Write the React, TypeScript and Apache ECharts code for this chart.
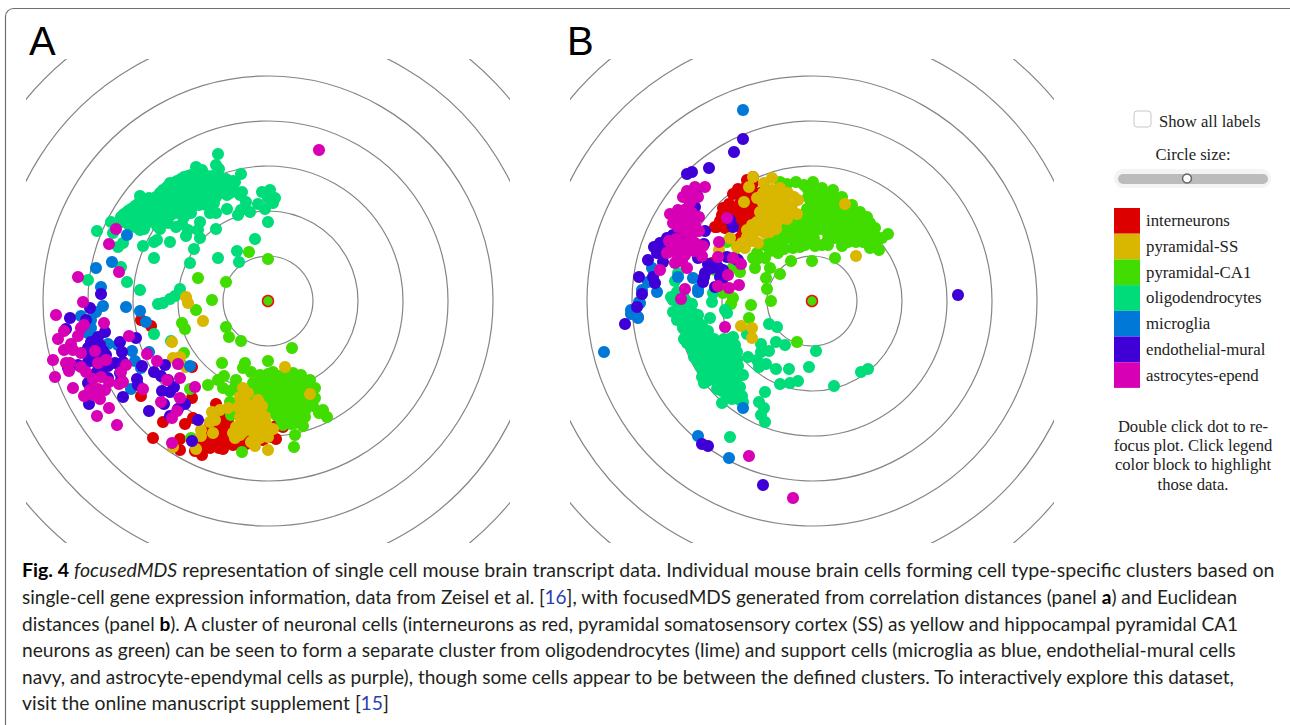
import React, { useEffect, useRef } from "react";
import * as echarts from "echarts";

const cellTypes = ["interneurons", "pyramidal-SS", "pyramidal-CA1", "oligodendrocytes", "microglia", "endothelial-mural", "astrocytes-epend"];
const ringRadii = [45, 90, 135, 180, 225, 270, 315];
const focusPoint = [0, 0];

const aInterneurons = [[-127,-19],[-117,-25],[-127,-95],[-76,-97],[-52,-103],[-105,-121],[-83,-123],[-75,-117],[-115,-137],[-88,-138],[-88,-149],[-73,-150],[-66,-154],[-76,-66],[-58,-147],[-49,-147],[-42,-142],[-35,-144],[-25,-139],[-17,-137],[-52,-132],[-62,-139],[-52,-142],[-45,-136],[-38,-132],[-30,-132],[-22,-132],[-5,-139],[2,-136],[8,-138],[15,-126],[-52,-119],[-45,-116],[-42,-126],[-40,-119],[-68,-146],[-58,-122],[-48,-126],[-56,-126],[-62,-132],[-45,-148],[-38,-140],[-30,-142],[-22,-143],[-12,-135],[-55,-140],[-48,-140],[8,-125],[2,-128]];
const aSS = [[-82,4],[-80,-2],[-65,-20],[-96,-41],[-95,-57],[-88,-56],[-82,-66],[-87,-99],[-40,-107],[-48,-109],[-56,-111],[-53,-119],[-58,-121],[-67,-129],[-67,-135],[-55,-132],[-72,-148],[-95,-146],[17,-66],[42,-93],[0,-149],[-25,-87],[-28,-96],[-30,-106],[-22,-102],[-10,-99],[-18,-112],[-10,-109],[-3,-116],[-28,-116],[-20,-122],[-12,-122],[-32,-126],[-33,-137],[-25,-131],[-35,-132],[-17,-141],[-13,-145],[-8,-137],[-2,-131],[5,-128],[0,-136],[-8,-127],[-7,-117],[-15,-131],[-20,-92],[-24,-96],[-15,-105],[-24,-112],[-15,-116],[-24,-120],[-6,-105],[-18,-128],[-10,-132],[-28,-134],[-2,-122]];
const aCA1 = [[-70,23],[-42,19],[-56,1],[-72,-9],[-19,49],[0,42],[-86,-22],[-83,-28],[-42,-26],[-39,-36],[-27,-40],[24,-47],[-84,-52],[-46,-62],[-23,-62],[0,-60],[-25,-67],[-17,-71],[-8,-74],[-60,-84],[-50,-79],[-44,-75],[-32,-79],[-45,-87],[-38,-90],[-33,-86],[-38,-101],[-37,-114],[-78,-88],[-77,-137],[-26,-151],[26,-146],[27,-134],[35,-125],[59,-116],[55,-109],[51,-112],[5,-71],[15,-74],[25,-72],[33,-74],[42,-79],[47,-87],[-5,-79],[5,-79],[15,-82],[25,-81],[35,-82],[-15,-82],[-20,-89],[-12,-89],[-2,-87],[8,-89],[18,-91],[28,-91],[38,-92],[-8,-97],[2,-97],[12,-97],[22,-99],[32,-99],[42,-101],[47,-97],[2,-106],[12,-106],[22,-107],[32,-107],[45,-105],[8,-114],[18,-114],[28,-114],[37,-116],[15,-124],[23,-123],[13,-119],[0,-73],[10,-75],[20,-76],[30,-78],[38,-84],[-10,-84],[0,-84],[10,-85],[20,-86],[30,-86],[40,-87],[-16,-93],[-5,-92],[5,-92],[15,-93],[25,-94],[35,-95],[44,-92],[-3,-102],[7,-102],[17,-102],[27,-103],[37,-104],[7,-110],[17,-110],[27,-111],[37,-110],[12,-114],[22,-118],[32,-118],[18,-121],[27,-122]];
const aOligo = [[-50,147],[-52,136],[-49,132],[-72,134],[-66,131],[-27,127],[-33,119],[-35,113],[-26,109],[-22,99],[-28,106],[-6,109],[2,111],[0,103],[7,103],[5,98],[-10,97],[-3,92],[-18,89],[-27,91],[-30,86],[-41,92],[-52,88],[-58,88],[-54,98],[0,79],[-52,72],[-13,62],[-31,50],[-29,39],[-50,43],[-74,52],[-78,38],[-68,63],[-70,71],[-68,79],[-82,65],[-80,71],[-86,77],[-92,74],[-98,59],[-111,61],[-114,59],[-125,55],[-114,43],[-108,72],[-100,78],[-128,105],[-128,71],[-171,70],[-157,79],[-155,68],[-145,58],[-150,54],[-147,34],[-180,21],[-141,19],[-128,11],[-88,12],[-93,5],[-98,2],[-105,-2],[-110,-3],[-114,-33],[-97,-40],[-87,-63],
[-147,84],[-146,79],[-140,90],[-141,84],[-139,76],[-133,95],[-134,88],[-132,81],[-133,74],[-126,100],[-127,92],[-125,85],[-126,78],[-124,72],[-119,103],[-120,96],[-118,88],[-119,80],[-112,104],[-113,97],[-111,90],[-112,82],[-111,75],[-105,111],[-106,103],[-104,95],[-105,87],[-104,80],[-98,118],[-99,110],[-97,102],[-98,94],[-97,86],[-91,120],[-92,112],[-90,104],[-91,96],[-90,88],[-84,124],[-85,116],[-83,108],[-84,100],[-83,92],[-84,84],[-77,126],[-78,118],[-76,110],[-77,102],[-76,94],[-77,88],[-70,128],[-71,120],[-69,112],[-70,104],[-69,96],[-63,126],[-64,118],[-62,110],[-63,102],[-62,96],[-56,125],[-57,117],[-55,109],[-56,101],[-49,124],[-50,116],[-48,108],[-42,122],[-43,114],[-41,106],[-35,120],[-36,112],
[-144,87],[-137,92],[-130,97],[-130,85],[-122,101],[-122,90],[-122,77],[-115,100],[-115,92],[-115,84],[-108,108],[-108,99],[-108,91],[-101,114],[-101,106],[-101,98],[-101,90],[-94,118],[-94,108],[-94,100],[-94,92],[-87,122],[-87,112],[-87,104],[-87,96],[-80,125],[-80,114],[-80,106],[-80,97],[-73,122],[-73,114],[-73,106],[-73,98],[-66,124],[-66,114],[-66,106],[-66,98],[-59,122],[-59,113],[-59,105],[-52,121],[-52,112],[-52,104],[-45,118],[-45,110],[-38,116],[-38,108]];
const aMicroglia = [[-165,-5],[-142,-6],[-128,-10],[-122,-21],[-172,-11],[-177,-19],[-187,-15],[-180,-32],[-160,-43],[-150,-44],[-136,-50],[-133,-60],[-127,-67],[-119,-51],[-137,-88],[-78,-65],[-177,-27],[-141,66],[-156,39],[-172,33],[-167,14]];
const aEndothelial = [[-167,7],[-178,-7],[-198,-17],[-182,-19],[-202,-28],[-163,-31],[-170,-36],[-177,-41],[-180,-47],[-168,-44],[-175,-54],[-162,-54],[-180,-61],[-167,-71],[-190,-64],[-200,-67],[-148,-41],[-132,-37],[-146,-51],[-153,-62],[-145,-61],[-148,-72],[-180,-82],[-160,-77],[-147,-79],[-145,-96],[-179,-103],[-131,-78],[-130,-84],[-126,-65],[-114,-71],[-103,-64],[-107,-75],[-100,-79],[-106,-90],[-98,-91],[-94,-86],[-104,-103],[-119,-110],[-83,-103],[-90,-108],[-98,-115],[-70,-119],[-76,-140],[-172,-44],[-165,-50],[-172,-58],[-178,-52],[-170,-64],[-160,-65],[-172,-72]];
const aAstrocytes = [[51,151],[-152,72],[-159,57],[-149,29],[-190,24],[-185,-1],[-212,-14],[-204,-30],[-210,-38],[-190,-35],[-187,-27],[-184,-24],[-164,-22],[-139,-35],[-215,-59],[-213,-76],[-204,-49],[-197,-43],[-195,-49],[-187,-52],[-173,-50],[-162,-59],[-170,-62],[-198,-62],[-202,-62],[-199,-70],[-187,-66],[-182,-71],[-175,-78],[-167,-76],[-159,-81],[-195,-87],[-178,-89],[-170,-88],[-184,-95],[-175,-94],[-168,-98],[-163,-89],[-149,-83],[-142,-64],[-147,-71],[-145,-81],[-125,-88],[-159,-107],[-171,-115],[-151,-124],[-121,-53],[-111,-60],[-90,-63],[-88,-77],[-101,-79],[-73,-86],[-107,-101],[-91,-110],[-96,-117],[-96,-142],[-88,-97]];

const bInterneurons = [[-59,124],[-65,121],[-67,113],[-79,107],[-64,104],[-72,98],[-89,93],[-90,86],[-79,89],[-69,89],[-84,84],[-95,74],[-75,81],[-65,78],[-72,63],[-59,118],[-52,108],[-49,93],[-59,94],[-97,74],[-64,69],[-57,81],[-87,73],[-100,38],[-75,93],[-83,97],[-64,96],[-68,84],[-58,100],[-60,110],[-70,105],[-74,112],[-60,86],[-80,76],[-70,72],[-66,60],[-62,118],[-92,80],[-85,90]];
const bSS = [[-59,124],[-40,123],[-48,118],[-63,114],[-68,99],[-55,103],[-49,108],[-40,111],[-32,113],[-24,108],[-14,101],[-49,98],[-39,103],[-29,103],[-20,96],[-15,87],[-52,89],[-42,94],[-32,93],[-24,86],[-25,82],[-47,84],[-37,86],[-55,79],[-45,78],[-35,79],[-60,76],[-65,71],[-52,73],[-42,69],[-60,66],[-54,58],[-67,53],[33,97],[44,45],[-75,54],[-82,63],[-93,51],[-90,19],[-71,-25],[-60,-27],[-60,-37],[-44,104],[-34,108],[-26,98],[-18,104],[-36,96],[-44,88],[-30,88],[-50,80],[-40,74],[-55,70],[-47,68],[-60,60],[-30,97],[-22,92],[-36,72],[-65,64],[-70,58]];
const bCA1 = [[-32,119],[-16,119],[1,119],[-5,113],[10,113],[21,111],[-4,104],[8,104],[21,103],[30,104],[40,96],[48,89],[55,84],[63,73],[76,67],[65,61],[67,51],[58,53],[-2,93],[11,93],[25,91],[38,88],[45,81],[55,73],[-9,86],[5,86],[18,84],[31,83],[-15,79],[-2,79],[11,78],[25,76],[38,76],[50,69],[58,63],[-25,73],[-12,71],[1,71],[15,69],[28,68],[41,66],[51,59],[-32,68],[-19,63],[-5,63],[10,56],[23,63],[36,59],[-42,63],[-30,59],[-19,53],[-47,56],[-37,53],[-34,48],[-55,48],[-47,43],[-59,43],[-7,56],[-21,40],[0,40],[23,43],[-57,33],[-42,33],[-32,27],[-46,23],[-45,12],[-41,0],[-61,-4],[-79,3],[-81,-3],[-63,-17],[-85,59],[-77,44],[-72,29],[-79,34],[-89,8],[-97,31],[-15,-41],
[-25,117],[-8,116],[3,110],[15,108],[-1,99],[6,98],[15,100],[26,97],[33,96],[18,93],[32,90],[-5,92],[5,93],[44,86],[50,80],[58,78],[63,65],[70,63],[-12,84],[-3,86],[12,86],[24,84],[38,82],[-20,77],[-8,78],[5,79],[18,78],[32,78],[45,74],[53,67],[-30,71],[-18,71],[-5,71],[8,72],[21,70],[35,70],[47,63],[63,57],[-38,65],[-25,63],[-12,63],[2,63],[16,62],[30,62],[44,59],[-28,52],[-12,54],[3,55],[-42,50],[-36,58],[16,56],[30,55],[-55,42]];
const bOligo = [[-43,-23],[-35,-26],[-36,-41],[-27,-44],[4,-50],[-51,-43],[-43,-50],[-51,-51],[-64,-56],[-55,-59],[-46,-63],[-53,-66],[-36,-68],[-23,-68],[-3,-66],[56,-68],[49,-71],[22,-85],[-14,-80],[-22,-82],[-32,-83],[-47,-91],[-53,-101],[-48,-107],[-51,-114],[-47,-121],[-82,-136],[-90,-102],[-69,-101],[-102,-17],[-65,-33],[-100,-1],[-87,-9],[-85,-12],[-137,20],[-134,28],[-141,4],[-135,9],[-99,8],
[-139,1],[-125,-1],[-132,4],[-139,-11],[-129,-11],[-119,-12],[-135,-19],[-125,-21],[-115,-19],[-129,-27],[-119,-27],[-109,-29],[-124,-36],[-114,-36],[-104,-37],[-79,-36],[-84,-39],[-125,-42],[-117,-44],[-107,-44],[-97,-44],[-87,-44],[-77,-44],[-115,-51],[-105,-51],[-95,-52],[-85,-52],[-75,-51],[-114,-61],[-104,-61],[-94,-61],[-84,-61],[-75,-59],[-109,-69],[-99,-69],[-89,-69],[-79,-69],[-110,-76],[-100,-77],[-90,-76],[-80,-76],[-69,-74],[-108,-82],[-95,-82],[-79,-86],[-72,-86],[-90,-90],[-82,-87],[-74,-92],
[-133,-3],[-128,3],[-120,-3],[-134,-14],[-124,-16],[-114,-14],[-130,-22],[-120,-22],[-110,-24],[-124,-30],[-114,-30],[-104,-30],[-128,-38],[-118,-40],[-108,-38],[-98,-38],[-88,-38],[-120,-48],[-110,-47],[-100,-47],[-90,-47],[-80,-47],[-118,-56],[-108,-56],[-98,-56],[-88,-56],[-78,-56],[-112,-65],[-102,-65],[-92,-65],[-82,-65],[-74,-65],[-104,-73],[-94,-72],[-84,-72],[-74,-72],[-105,-80],[-88,-82],[-76,-80],[-95,-88],[-86,-92],[-78,-93],[-70,-95],[-80,-98],[-72,-99]];
const bMicroglia = [[-69,191],[-160,33],[-164,19],[-155,9],[-170,11],[-173,-1],[-181,-9],[-174,-16],[-134,24],[-119,23],[-114,12],[-75,41],[-208,-51],[-174,-17],[-181,-13],[-172,-2],[-114,9],[-69,-107],[-114,-135],[-83,-157]];
const bEndothelial = [[-69,162],[-78,149],[-103,133],[-120,129],[-125,127],[-107,70],[-108,57],[-145,63],[-139,66],[-155,48],[-164,41],[-149,39],[-173,24],[-159,24],[-157,18],[-170,7],[-175,-6],[-122,58],[-114,43],[-104,37],[-107,28],[-109,19],[-94,34],[-89,31],[-97,14],[-89,23],[-79,74],[-82,81],[-85,44],[-74,41],[-117,94],[-115,106],[-134,68],[-152,58],[-187,-23],[-110,-143],[-104,-145],[-49,-184],[146,6],[-128,62],[-158,54],[-146,52],[-108,24],[-100,33],[-92,24]];
const bAstrocytes = [[-107,114],[-117,114],[-122,106],[-129,104],[-122,98],[-134,91],[-142,87],[-129,88],[-120,88],[-139,78],[-129,78],[-117,76],[-127,69],[-119,68],[-117,58],[-109,55],[-132,58],[-140,54],[-145,48],[-135,46],[-127,46],[-137,38],[-125,33],[-110,45],[-152,31],[-122,64],[-85,83],[-93,59],[-94,44],[-79,43],[-71,37],[-84,26],[-94,15],[-83,13],[-73,16],[-127,12],[-131,2],[-87,-26],[-63,-155],[-19,-197],[-125,110],[-114,104],[-126,92],[-136,84],[-125,83],[-134,74],[-123,72],[-113,84],[-122,82],[-113,70],[-124,58],[-136,62],[-128,52],[-118,50],[-143,60],[-138,52],[-130,40],[-120,54]];

const panelA = [aInterneurons, aSS, aCA1, aOligo, aMicroglia, aEndothelial, aAstrocytes];
const panelB = [bInterneurons, bSS, bCA1, bOligo, bMicroglia, bEndothelial, bAstrocytes];

const captionLines = [
  "{b|Fig. 4} {i|focusedMDS} representation of single cell mouse brain transcript data. Individual mouse brain cells forming cell type-specific clusters based on",
  "single-cell gene expression information, data from Zeisel et al. [{l|16}], with focusedMDS generated from correlation distances (panel {b|a}) and Euclidean",
  "distances (panel {b|b}). A cluster of neuronal cells (interneurons as red, pyramidal somatosensory cortex (SS) as yellow and hippocampal pyramidal CA1",
  "neurons as green) can be seen to form a separate cluster from oligodendrocytes (lime) and support cells (microglia as blue, endothelial-mural cells",
  "navy, and astrocyte-ependymal cells as purple), though some cells appear to be between the defined clusters. To interactively explore this dataset,",
  "visit the online manuscript supplement [{l|15}]",
];
const captionStretch = [1.04, 1.012, 1.013, 1.023, 1.014, 1.03];
const helpLines = ["Double click dot to re-", "focus plot. Click legend", "color block to highlight", "those data."];

const colors = ["#dd0000", "#d9b600", "#41dc00", "#00dc7a", "#0078d8", "#3f00d8", "#d800b4"];
// drawing order, back to front
const drawOrder = [0, 2, 3, 1, 4, 5, 6];
const SERIF = "'Liberation Serif', serif";
const SANS = "Lato, 'Noto Sans', sans-serif";
const CAP = 18.8;

function ringSeries(panel: number) {
  return {
    type: "custom",
    xAxisIndex: panel,
    yAxisIndex: panel,
    clip: true,
    silent: true,
    z: 1,
    data: ringRadii.map((r) => [r]),
    encode: { x: -1, y: -1 },
    renderItem: (_: any, api: any) => {
      const c = api.coord(focusPoint);
      const r = api.size([api.value(0), 0])[0];
      return {
        type: "circle",
        shape: { cx: c[0], cy: c[1], r },
        style: { fill: "none", stroke: "#858585", lineWidth: 1.2 },
      };
    },
  };
}

function dotSeries(panel: number, points: number[][][]) {
  return drawOrder.map((k) => ({
    type: "scatter",
    name: cellTypes[k],
    xAxisIndex: panel,
    yAxisIndex: panel,
    symbolSize: 12,
    z: 2 + drawOrder.indexOf(k),
    silent: true,
    itemStyle: { color: colors[k], opacity: 1 },
    data: k === 2
      ? [...points[k], { value: focusPoint, symbolSize: 11, itemStyle: { color: colors[k], borderColor: "#f01010", borderWidth: 1.5 } }]
      : points[k],
  }));
}

export default function App() {
  const ref = useRef<HTMLDivElement>(null);
  useEffect(() => {
    const chart = echarts.init(ref.current!, undefined, { renderer: "svg" });
    const axis = { type: "value", min: -242, max: 242, show: false };
    chart.setOption({
      animation: false,
      backgroundColor: "#ffffff",
      grid: [
        { left: 26, top: 59, width: 484, height: 484 },
        { left: 570, top: 59, width: 484, height: 484 },
      ],
      xAxis: [{ ...axis, gridIndex: 0 }, { ...axis, gridIndex: 1 }],
      yAxis: [{ ...axis, gridIndex: 0 }, { ...axis, gridIndex: 1 }],
      legend: {
        left: 1114,
        top: 208,
        padding: 0,
        orient: "vertical",
        icon: "rect",
        itemWidth: 26,
        itemHeight: 25.7,
        itemGap: 0,
        selectedMode: false,
        data: cellTypes,
        textStyle: { fontFamily: SERIF, fontSize: 16.8, color: "#222", padding: [4, 0, 0, 1] },
      },
      series: [ringSeries(0), ringSeries(1), ...dotSeries(0, panelA), ...dotSeries(1, panelB)],
      graphic: [
        { type: "rect", silent: true, shape: { x: 5.5, y: 8.5, width: 1300, height: 740, r: 8 }, style: { fill: "none", stroke: "#707070", lineWidth: 1.2 } },
        { type: "text", left: 29, top: 21, silent: true, style: { text: "A", font: "40px 'Liberation Sans', sans-serif", fill: "#000" } },
        { type: "text", left: 567, top: 21, silent: true, style: { text: "B", font: "40px 'Liberation Sans', sans-serif", fill: "#000" } },
        { type: "rect", silent: true, shape: { x: 1134, y: 111, width: 17, height: 16, r: 3 }, style: { fill: "#fff", stroke: "#c8c8c8", lineWidth: 1 } },
        { type: "text", silent: true, x: 1159, y: 121, style: { text: "Show all labels", font: "16.6px " + SERIF, fill: "#222", verticalAlign: "middle" } },
        { type: "text", silent: true, x: 1193, y: 154, style: { text: "Circle size:", font: "16.6px " + SERIF, fill: "#222", align: "center", verticalAlign: "middle" } },
        { type: "rect", silent: true, shape: { x: 1114, y: 169, width: 157, height: 19, r: 9 }, style: { fill: "#f4f4f4" } },
        { type: "rect", silent: true, shape: { x: 1118, y: 174, width: 150, height: 10, r: 5 }, style: { fill: "#bcbcbc" } },
        { type: "circle", silent: true, shape: { cx: 1187, cy: 178.5, r: 4.5 }, style: { fill: "#fff", stroke: "#666", lineWidth: 1.5 } },
        ...helpLines.map((t, i) => ({
          type: "text", silent: true, x: 1193, y: 426 + i * 19.4,
          style: { text: t, font: "16.6px " + SERIF, fill: "#222", align: "center", verticalAlign: "middle" },
        })),
        ...captionLines.map((t, i) => ({
          type: "text", silent: true, x: 22, y: 570 + i * 26.6, scaleX: captionStretch[i],
          style: {
            text: t,
            font: CAP + "px " + SANS,
            fill: "#231f20",
            verticalAlign: "middle",
            rich: {
              b: { fontFamily: SANS, fontSize: CAP, fontWeight: "bold", fill: "#000" },
              i: { fontFamily: SANS, fontSize: CAP, fontStyle: "italic", fill: "#231f20" },
              l: { fontFamily: SANS, fontSize: CAP, fill: "#2b3fb0" },
            },
          },
        })),
      ],
    });
    return () => chart.dispose();
  }, []);
  return <div ref={ref} style={{ position: "absolute", left: 0, top: 0, width: 1290, height: 725 }} />;
}
